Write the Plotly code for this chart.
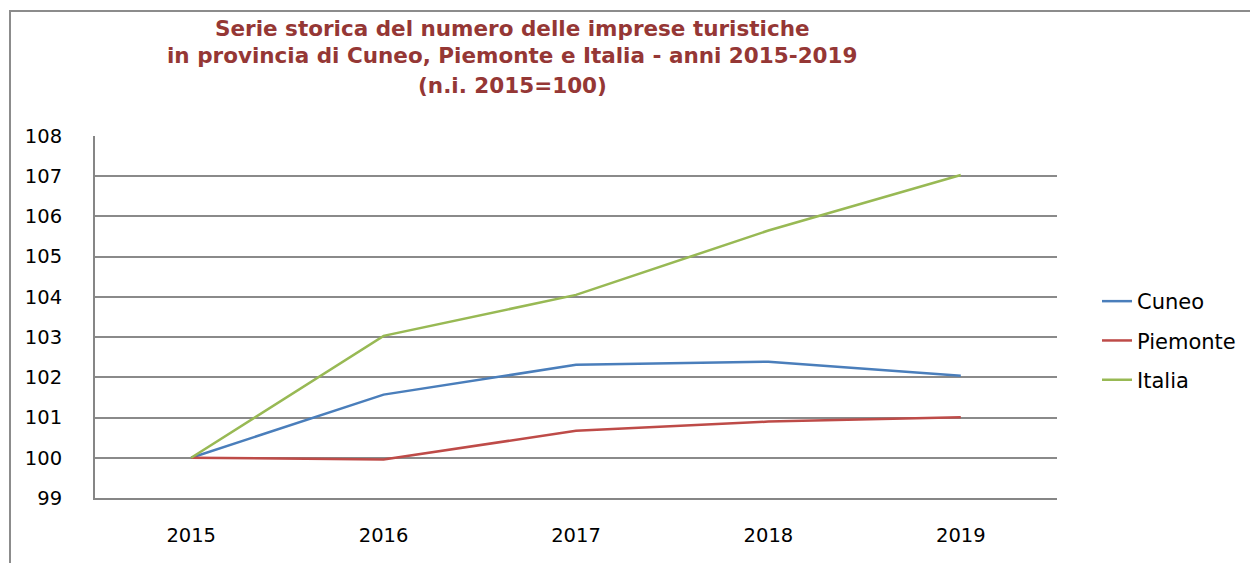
import plotly.graph_objects as go

years = ["2015", "2016", "2017", "2018", "2019"]
cuneo = [100.0, 101.57, 102.31, 102.39, 102.04]
piemonte = [100.0, 99.96, 100.67, 100.90, 101.01]
italia = [100.0, 103.03, 104.05, 105.65, 107.03]
series_names = ["Cuneo", "Piemonte", "Italia"]
series_colors = ["#4a7ebb", "#be4b48", "#98b954"]
y_ticks = [99, 100, 101, 102, 103, 104, 105, 106, 107, 108]
title_lines = [
    "Serie storica del numero delle imprese turistiche",
    "in provincia di Cuneo, Piemonte e Italia - anni 2015-2019",
    "(n.i. 2015=100)",
]

OFF = 8  # default body margin of the html page
W, H = 1258 - OFF, 563 - OFF
L, R, T, B = 95 - OFF, 1057 - OFF, 136 - OFF, 498 - OFF


def px_x(p):
    return (p - OFF - L) / (R - L)


def px_y(p):
    return (B - (p - OFF)) / (B - T)


fig = go.Figure()
for name, vals, col in zip(series_names, [cuneo, piemonte, italia], series_colors):
    fig.add_trace(go.Scatter(x=years, y=vals, mode="lines", name=name,
                             line=dict(color=col, width=2.5), legendgroup=name))

fig.add_shape(type="rect", xref="paper", yref="paper",
              x0=px_x(10), x1=px_x(1290), y0=px_y(11), y1=px_y(600),
              line=dict(color="#8c8c8c", width=2), layer="below")

for txt, yc in zip(title_lines, [28, 56, 85]):
    fig.add_annotation(text=txt, xref="paper", yref="paper",
                       x=px_x(512), y=px_y(yc), xanchor="center", yanchor="middle",
                       showarrow=False,
                       font=dict(family="DejaVu Sans", size=21.5, color="#953735",
                                 weight="bold"))

fig.update_layout(
    width=W, height=H,
    margin=dict(l=L, r=W - R, t=T, b=H - B, autoexpand=False),
    paper_bgcolor="white", plot_bgcolor="white",
    font=dict(family="DejaVu Sans", size=19.5, color="#000000"),
    xaxis=dict(type="category", range=[-0.5, 4.5], showgrid=False,
               showline=True, linecolor="#868686", linewidth=2,
               ticks="", ticklabelstandoff=19, tickfont=dict(size=19.5)),
    yaxis=dict(range=[99, 108], tickvals=y_ticks, showgrid=True,
               gridcolor="#8a8a8a", gridwidth=1.5, zeroline=False,
               showline=True, linecolor="#868686", linewidth=2,
               ticks="", ticklabelstandoff=27, tickfont=dict(size=19.5)),
    legend=dict(x=px_x(1097), y=px_y(281), xanchor="left", yanchor="top",
                font=dict(size=21), tracegroupgap=9, itemwidth=30,
                bgcolor="rgba(0,0,0,0)"),
    showlegend=True,
)

fig.write_html("out.html")
